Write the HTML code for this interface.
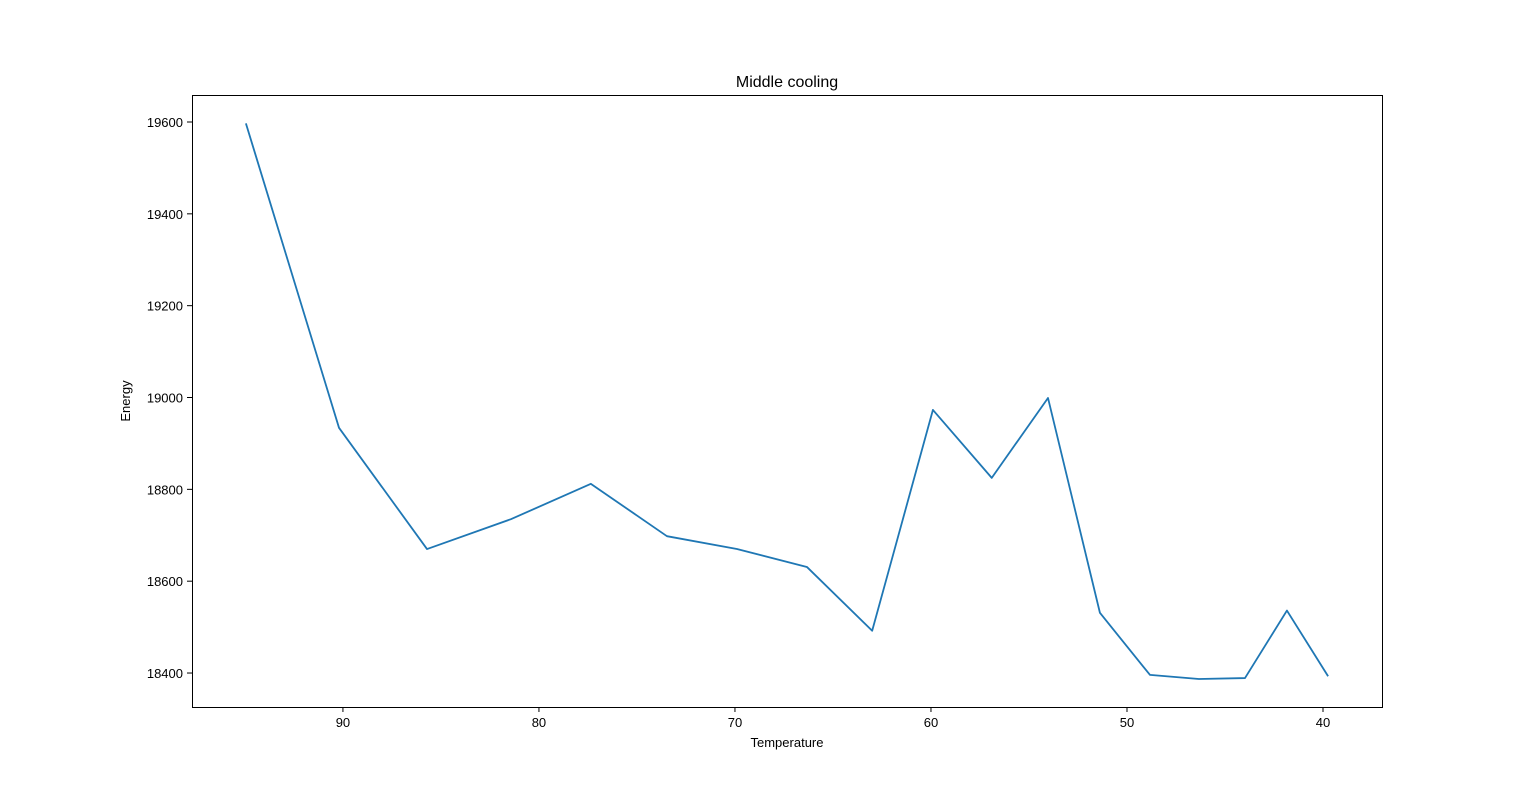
<!DOCTYPE html>
<html>
<head>
<meta charset="utf-8">
<style>
html,body{margin:0;padding:0;background:#fff;}
svg{display:block;font-family:"Liberation Sans","DejaVu Sans",sans-serif;}
</style>
</head>
<body>
<svg id="chart" width="1536" height="794" viewBox="0 0 1536 794" xmlns="http://www.w3.org/2000/svg">
<rect x="0" y="0" width="1536" height="794" fill="#fff"/>
<text x="787" y="87" font-size="16" text-anchor="middle" fill="#000">Middle cooling</text>
<g id="grid"></g>
<rect x="192.5" y="95.5" width="1190" height="612" fill="none" stroke="#000" stroke-width="1"/>
<text x="787" y="747" font-size="13" text-anchor="middle" fill="#000">Temperature</text>
<text x="130" y="401" font-size="13" text-anchor="middle" fill="#000" transform="rotate(-90 130 401)">Energy</text>
</svg>
<script>
const temperatures = [94.95, 90.2, 85.71, 81.43, 77.35, 73.47, 69.9, 66.33, 63.0, 59.9, 56.9, 54.03, 51.38, 48.83, 46.33, 43.98, 41.84, 39.74];
const energies = [19597, 18934, 18670, 18735, 18812, 18698, 18670, 18631, 18492, 18973, 18825, 18999, 18531, 18396, 18387, 18389, 18536, 18393];
const xTicks = [90, 80, 70, 60, 50, 40];
const yTicks = [18400, 18600, 18800, 19000, 19200, 19400, 19600];

const L = 192, R = 1382, T = 95, B = 707;
const xMin = 97.7, xMax = 36.99;   // inverted axis
const yMin = 18326, yMax = 19658.8;
function xs(t){ return L + (t - xMin) / (xMax - xMin) * (R - L); }
function ys(v){ return B - (v - yMin) / (yMax - yMin) * (B - T); }

const svg = document.getElementById('chart');
const NS = 'http://www.w3.org/2000/svg';
const g = document.getElementById('grid');

xTicks.forEach(t => {
  const x = xs(t);
  const ln = document.createElementNS(NS, 'line');
  ln.setAttribute('x1', x); ln.setAttribute('x2', x);
  ln.setAttribute('y1', B); ln.setAttribute('y2', B + 5);
  ln.setAttribute('stroke', '#000');
  
  
  g.appendChild(ln);
  const tx = document.createElementNS(NS, 'text');
  tx.setAttribute('x', x); tx.setAttribute('y', B + 20);
  tx.setAttribute('font-size', '13'); tx.setAttribute('text-anchor', 'middle');
  tx.textContent = t;
  
  
  g.appendChild(tx);
});
yTicks.forEach(v => {
  const y = ys(v);
  const ln = document.createElementNS(NS, 'line');
  ln.setAttribute('x1', L - 5); ln.setAttribute('x2', L);
  ln.setAttribute('y1', y); ln.setAttribute('y2', y);
  ln.setAttribute('stroke', '#000');
  
  
  g.appendChild(ln);
  const tx = document.createElementNS(NS, 'text');
  tx.setAttribute('x', L - 9); tx.setAttribute('y', y + 5);
  tx.setAttribute('font-size', '13'); tx.setAttribute('text-anchor', 'end');
  tx.textContent = v;
  
  
  g.appendChild(tx);
});

const pts = temperatures.map((t, i) => xs(t).toFixed(2) + ',' + ys(energies[i]).toFixed(2)).join(' ');
const line = document.createElementNS(NS, 'polyline');
line.setAttribute('points', pts);
line.setAttribute('fill', 'none');
line.setAttribute('stroke', '#1f77b4');
line.setAttribute('stroke-width', '1.8');
line.setAttribute('stroke-linejoin', 'round');


svg.appendChild(line);
</script>
</body>
</html>
